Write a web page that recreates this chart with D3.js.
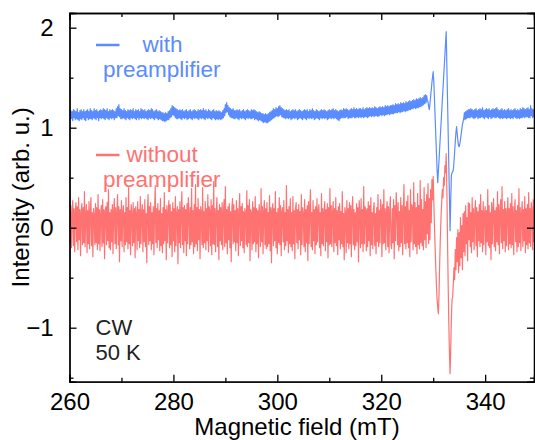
<!DOCTYPE html>
<html>
<head>
<meta charset="utf-8">
<script src="https://cdn.jsdelivr.net/npm/d3@7"></script>
<style>
  html, body { margin: 0; padding: 0; background: #fff; }
  #chart { width: 535px; height: 440px; }
  svg text { font-family: "Liberation Sans", Arial, sans-serif; }
</style>
</head>
<body>
<div id="chart"></div>
<script>
// sweep grid (mT): first point and spacing of the recorded field values
var fieldStart = 260;
var fieldStep = 0.125;

// intensity without preamplifier, one row per mT
var redIntensity = [
  0.32, -0.16, 0.22, -0.20, 0.14, 0.27, -0.18, 0.19,
  -0.24, 0.16, 0.25, -0.14, 0.21, -0.22, 0.30, -0.12,
  0.18, -0.28, 0.15, 0.24, -0.17, 0.20, -0.15, 0.36,
  -0.19, 0.14, 0.23, -0.25, 0.17, -0.16, 0.26, -0.21,
  0.16, 0.30, -0.18, 0.15, -0.29, 0.19, 0.13, -0.17,
  0.24, -0.15, 0.20, -0.22, 0.33, -0.16, 0.18, -0.23,
  0.14, 0.22, -0.19, 0.28, -0.15, 0.18, -0.31, 0.16,
  0.21, -0.17, 0.25, -0.13, 0.38, -0.20, 0.15, -0.22,
  0.18, -0.14, 0.23, -0.26, 0.16, 0.29, -0.16, 0.20,
  -0.21, 0.15, 0.33, -0.17, 0.21, -0.34, 0.18, -0.13,
  0.27, -0.19, 0.16, 0.22, -0.24, 0.15, -0.17, 0.30,
  -0.14, 0.20, -0.21, 0.40, -0.16, 0.17, -0.27, 0.23,
  0.13, -0.18, 0.25, -0.15, 0.19, -0.30, 0.21, 0.14,
  -0.22, 0.26, -0.13, 0.18, -0.20, 0.31, -0.16, 0.15,
  0.23, -0.24, 0.18, -0.14, 0.28, -0.19, 0.14, -0.35,
  0.17, 0.33, -0.17, 0.21, -0.13, 0.25, -0.22, 0.15,
  -0.16, 0.21, -0.27, 0.18, 0.42, -0.15, 0.19, -0.20,
  0.24, -0.12, 0.17, -0.23, 0.29, -0.18, 0.14, -0.25,
  0.20, -0.16, 0.35, -0.13, 0.18, -0.32, 0.22, -0.15,
  0.15, 0.27, -0.20, 0.23, -0.17, 0.16, -0.29, 0.25,
  -0.13, 0.19, -0.24, 0.31, -0.18, 0.14, 0.21, -0.36,
  0.18, -0.15, 0.26, -0.20, 0.16, 0.36, -0.17, 0.20,
  -0.25, 0.22, -0.13, 0.18, -0.28, 0.24, -0.16, 0.30,
  0.14, -0.21, 0.20, -0.17, 0.39, -0.14, 0.17, -0.26,
  0.23, -0.19, 0.43, -0.16, 0.20, -0.23, 0.29, -0.12,
  0.18, -0.31, 0.21, 0.15, -0.17, 0.40, -0.20, 0.16,
  -0.15, 0.26, -0.22, 0.19, -0.13, 0.33, -0.24, 0.21,
  0.16, -0.18, 0.28, -0.27, 0.22, -0.16, 0.46, -0.17,
  0.19, -0.24, 0.15, 0.30, -0.19, 0.17, -0.32, 0.23,
  -0.13, 0.20, -0.17, 0.25, -0.22, 0.15, 0.28, -0.19,
  0.41, -0.15, 0.18, -0.26, 0.21, -0.12, 0.24, -0.20,
  0.16, -0.34, 0.20, 0.29, -0.16, 0.23, -0.14, 0.17,
  -0.23, 0.27, -0.15, 0.19, -0.28, 0.15, 0.34, -0.18,
  0.21, -0.13, 0.24, -0.20, 0.16, -0.25, 0.19, 0.14,
  -0.17, 0.37, -0.19, 0.22, -0.15, 0.28, -0.33, 0.18,
  0.15, -0.22, 0.26, -0.16, 0.20, -0.14, 0.31, -0.24,
  0.19, -0.16, 0.17, -0.30, 0.23, 0.13, -0.19, 0.39,
  -0.14, 0.21, -0.26, 0.16, 0.27, -0.17, 0.19, -0.21,
  0.25, -0.19, 0.15, -0.16, 0.32, -0.23, 0.20, -0.35,
  0.17, 0.24, -0.18, 0.19, -0.13, 0.36, -0.20, 0.15,
  -0.26, 0.19, -0.15, 0.30, -0.17, 0.22, -0.28, 0.16,
  0.20, -0.14, 0.27, -0.22, 0.15, -0.18, 0.42, -0.13,
  0.18, -0.25, 0.21, -0.16, 0.29, -0.19, 0.15, -0.23,
  0.31, -0.16, 0.17, -0.31, 0.19, 0.25, -0.15, 0.18,
  -0.21, 0.23, -0.12, 0.16, -0.27, 0.33, -0.17, 0.20,
  0.14, -0.19, 0.28, -0.24, 0.18, -0.15, 0.22, -0.33,
  0.26, -0.16, 0.20, 0.38, -0.19, 0.15, -0.22, 0.27,
  -0.13, 0.18, -0.26, 0.21, -0.17, 0.29, -0.14, 0.17,
  0.23, -0.20, 0.15, -0.28, 0.34, -0.16, 0.19, -0.18,
  0.16, 0.26, -0.23, 0.18, -0.14, 0.24, -0.30, 0.20,
  -0.17, 0.39, -0.16, 0.22, -0.19, 0.15, 0.26, -0.24,
  0.19, -0.15, 0.30, -0.18, 0.17, -0.27, 0.21, -0.12,
  0.24, -0.21, 0.16, -0.16, 0.36, -0.19, 0.14, -0.32,
  0.20, 0.15, -0.25, 0.27, -0.15, 0.19, -0.21, 0.25,
  -0.16, 0.22, -0.29, 0.17, 0.31, -0.17, 0.18, -0.22,
  0.15, -0.18, 0.24, -0.14, 0.20, -0.34, 0.27, 0.16,
  -0.20, 0.29, -0.16, 0.18, -0.24, 0.41, -0.16, 0.21,
  0.17, -0.23, 0.19, -0.19, 0.26, -0.13, 0.22, -0.28,
  0.30, -0.17, 0.15, -0.21, 0.18, 0.25, -0.18, 0.14,
  -0.26, 0.20, -0.14, 0.33, -0.19, 0.17, -0.15, 0.28,
  0.18, -0.29, 0.23, -0.16, 0.38, -0.15, 0.19, -0.22,
  0.15, 0.26, -0.19, 0.21, -0.25, 0.16, 0.31, -0.17,
  -0.21, 0.19, -0.15, 0.28, -0.31, 0.22, -0.13, 0.35,
  0.20, -0.17, 0.25, -0.23, 0.16, -0.19, 0.30, -0.15,
  0.22, -0.27, 0.18, 0.43, -0.16, 0.21, -0.21, 0.26,
  -0.15, 0.32, -0.20, 0.17, -0.29, 0.38, -0.14, 0.23,
  0.19, -0.22, 0.45, -0.16, 0.25, -0.19, 0.20, -0.26,
  0.34, -0.17, 0.22, -0.21, 0.47, -0.15, 0.28, -0.18,
  // resonance 328 - 336.875
  0.18, -0.22, 0.40, -0.12, 0.26, -0.20, 0.33, -0.06,
  0.44, -0.16, 0.29, -0.12, 0.38, 0.05, 0.48, 0.28,
  0.51, 0.25, 0.00, -0.20, -0.40, -0.58, -0.72, -0.80,
  -0.86, -0.65, -0.35, -0.10, 0.10, 0.25, 0.38, 0.30,
  0.50, 0.42, 0.62, 0.55, 0.74, 0.40, -0.10, -0.55,
  -0.95, -1.25, -1.46, -1.20, -0.90, -0.72, -0.69, -0.55,
  -0.40, -0.52, -0.22, -0.42, -0.10, -0.34, -0.02, -0.45,
  -0.05, -0.38, 0.10, -0.30, 0.02, -0.42, 0.14, -0.24,
  0.16, -0.28, 0.22, -0.16, 0.10, -0.33, 0.25, -0.12,
  // 337 - 349.875
  0.24, -0.19, 0.15, -0.25, 0.30, -0.14, 0.19, -0.22,
  0.14, 0.27, -0.18, 0.20, -0.29, 0.16, -0.13, 0.23,
  -0.19, 0.33, -0.15, 0.17, -0.24, 0.26, -0.17, 0.15,
  0.21, -0.27, 0.17, -0.14, 0.38, -0.18, 0.22, -0.20,
  0.15, -0.32, 0.25, -0.16, 0.19, 0.29, -0.19, 0.17,
  -0.23, 0.20, -0.14, 0.36, -0.17, 0.23, -0.26, 0.16,
  0.28, -0.15, 0.41, -0.21, 0.18, -0.13, 0.26, -0.24,
  0.19, -0.18, 0.15, 0.30, -0.22, 0.19, -0.16, 0.24,
  -0.20, 0.34, -0.17, 0.21, -0.27, 0.15, 0.28, -0.14,
  0.17, -0.24, 0.22, -0.19, 0.39, -0.15, 0.20, -0.23,
  0.14, 0.26, -0.19, 0.18, -0.13, 0.31, -0.25, 0.19,
  -0.17, 0.23, -0.21, 0.35, -0.15, 0.19, -0.19, 0.25,
  0.16, -0.22, 0.28, -0.14, 0.20, -0.17, 0.24, -0.11
];

// intensity with preamplifier, one row per mT
var blueIntensity = [
  1.18, 1.08, 1.17, 1.09, 1.16, 1.07, 1.18, 1.10,
  1.17, 1.08, 1.16, 1.09, 1.19, 1.08, 1.15, 1.07,
  1.17, 1.09, 1.18, 1.08, 1.16, 1.10, 1.18, 1.08,
  1.16, 1.07, 1.17, 1.10, 1.18, 1.08, 1.16, 1.09,
  1.19, 1.09, 1.17, 1.08, 1.16, 1.10, 1.19, 1.09,
  1.17, 1.08, 1.18, 1.10, 1.16, 1.07, 1.17, 1.10,
  1.18, 1.09, 1.17, 1.10, 1.19, 1.09, 1.18, 1.08,
  1.17, 1.10, 1.19, 1.09, 1.16, 1.08, 1.18, 1.10,
  1.17, 1.09, 1.18, 1.10, 1.17, 1.08, 1.16, 1.10,
  1.19, 1.10, 1.21, 1.12, 1.23, 1.11, 1.19, 1.09,
  1.18, 1.09, 1.17, 1.10, 1.19, 1.09, 1.17, 1.08,
  1.16, 1.10, 1.18, 1.09, 1.17, 1.08, 1.18, 1.10,
  1.17, 1.09, 1.19, 1.10, 1.16, 1.09, 1.18, 1.08,
  1.17, 1.10, 1.18, 1.08, 1.16, 1.10, 1.19, 1.09,
  1.18, 1.10, 1.17, 1.09, 1.18, 1.10, 1.16, 1.09,
  1.17, 1.08, 1.18, 1.10, 1.17, 1.09, 1.19, 1.10,
  1.18, 1.09, 1.16, 1.08, 1.17, 1.10, 1.18, 1.09,
  1.16, 1.08, 1.17, 1.09, 1.16, 1.08, 1.15, 1.07,
  1.15, 1.07, 1.14, 1.06, 1.15, 1.07, 1.14, 1.08,
  1.16, 1.08, 1.17, 1.10, 1.19, 1.11, 1.22, 1.13,
  1.21, 1.12, 1.20, 1.10, 1.19, 1.09, 1.18, 1.09,
  1.17, 1.10, 1.18, 1.09, 1.17, 1.08, 1.18, 1.10,
  1.16, 1.09, 1.17, 1.10, 1.18, 1.08, 1.16, 1.09,
  1.17, 1.10, 1.18, 1.09, 1.16, 1.08, 1.17, 1.10,
  1.18, 1.09, 1.17, 1.10, 1.16, 1.09, 1.18, 1.08,
  1.17, 1.10, 1.18, 1.09, 1.17, 1.10, 1.19, 1.09,
  1.17, 1.08, 1.18, 1.10, 1.16, 1.09, 1.18, 1.10,
  1.17, 1.09, 1.16, 1.08, 1.17, 1.10, 1.18, 1.09,
  1.16, 1.08, 1.17, 1.09, 1.16, 1.08, 1.17, 1.09,
  1.16, 1.08, 1.15, 1.09, 1.17, 1.10, 1.19, 1.12,
  1.23, 1.15, 1.25, 1.16, 1.22, 1.13, 1.20, 1.11,
  1.19, 1.10, 1.18, 1.10, 1.19, 1.09, 1.17, 1.09,
  1.17, 1.10, 1.18, 1.09, 1.17, 1.08, 1.18, 1.10,
  1.16, 1.09, 1.17, 1.10, 1.18, 1.09, 1.16, 1.08,
  1.17, 1.10, 1.18, 1.09, 1.17, 1.10, 1.16, 1.09,
  1.18, 1.09, 1.17, 1.10, 1.18, 1.08, 1.17, 1.09,
  1.16, 1.08, 1.15, 1.07, 1.16, 1.08, 1.15, 1.07,
  1.14, 1.06, 1.14, 1.05, 1.13, 1.06, 1.14, 1.05,
  1.13, 1.05, 1.14, 1.06, 1.15, 1.07, 1.16, 1.08,
  1.17, 1.09, 1.19, 1.10, 1.18, 1.11, 1.20, 1.12,
  1.19, 1.11, 1.21, 1.12, 1.22, 1.13, 1.20, 1.11,
  1.19, 1.10, 1.18, 1.10, 1.17, 1.09, 1.18, 1.10,
  1.17, 1.09, 1.18, 1.10, 1.16, 1.08, 1.17, 1.09,
  1.18, 1.10, 1.17, 1.09, 1.18, 1.10, 1.16, 1.08,
  1.17, 1.09, 1.18, 1.10, 1.17, 1.09, 1.16, 1.08,
  1.17, 1.10, 1.18, 1.09, 1.17, 1.08, 1.18, 1.10,
  1.16, 1.09, 1.18, 1.10, 1.17, 1.09, 1.19, 1.10,
  1.17, 1.08, 1.16, 1.09, 1.18, 1.10, 1.17, 1.09,
  1.16, 1.08, 1.17, 1.10, 1.18, 1.09, 1.17, 1.10,
  1.18, 1.09, 1.17, 1.10, 1.16, 1.08, 1.17, 1.09,
  1.18, 1.10, 1.17, 1.09, 1.18, 1.10, 1.19, 1.09,
  1.17, 1.10, 1.18, 1.09, 1.17, 1.08, 1.16, 1.07,
  1.17, 1.09, 1.18, 1.10, 1.17, 1.10, 1.19, 1.10,
  1.18, 1.10, 1.19, 1.11, 1.18, 1.09, 1.17, 1.10,
  1.18, 1.10, 1.19, 1.10, 1.18, 1.11, 1.20, 1.10,
  1.18, 1.10, 1.19, 1.11, 1.18, 1.10, 1.19, 1.11,
  1.19, 1.10, 1.18, 1.11, 1.20, 1.10, 1.18, 1.11,
  1.19, 1.11, 1.20, 1.10, 1.19, 1.11, 1.20, 1.12,
  1.19, 1.11, 1.20, 1.12, 1.19, 1.11, 1.21, 1.12,
  1.20, 1.12, 1.19, 1.11, 1.20, 1.12, 1.21, 1.13,
  1.20, 1.12, 1.21, 1.13, 1.20, 1.12, 1.22, 1.13,
  1.21, 1.13, 1.22, 1.14, 1.21, 1.13, 1.22, 1.14,
  1.22, 1.14, 1.23, 1.14, 1.22, 1.15, 1.24, 1.15,
  1.23, 1.15, 1.24, 1.16, 1.23, 1.15, 1.25, 1.16,
  1.24, 1.16, 1.25, 1.17, 1.24, 1.16, 1.26, 1.17,
  1.25, 1.17, 1.26, 1.18, 1.27, 1.18, 1.26, 1.19,
  1.27, 1.19, 1.28, 1.20, 1.27, 1.19, 1.29, 1.20,
  1.28, 1.20, 1.29, 1.21, 1.30, 1.21, 1.29, 1.22,
  // resonance 328 - 336.875
  1.30, 1.23, 1.32, 1.24, 1.33, 1.25, 1.32, 1.27,
  1.26, 1.21, 1.18, 1.24, 1.31, 1.38, 1.45, 1.51,
  1.56, 1.45, 1.28, 1.10, 0.92, 0.75, 0.58, 0.45,
  0.57, 0.68, 0.80, 0.92, 1.03, 1.15, 1.27, 1.38,
  1.50, 1.61, 1.73, 1.85, 1.96, 1.63, 1.30, 0.97,
  0.63, 0.30, -0.03, 0.28, 0.52, 0.55, 0.56, 0.58,
  0.66, 0.76, 0.86, 0.95, 1.01, 0.94, 0.87, 0.82,
  0.81, 0.84, 0.88, 0.93, 0.98, 1.03, 1.06, 1.09,
  1.15, 1.08, 1.16, 1.09, 1.17, 1.10, 1.18, 1.10,
  // 337 - 349.875
  1.18, 1.10, 1.19, 1.11, 1.18, 1.10, 1.17, 1.09,
  1.18, 1.10, 1.19, 1.11, 1.17, 1.09, 1.18, 1.10,
  1.19, 1.10, 1.18, 1.11, 1.20, 1.10, 1.17, 1.09,
  1.18, 1.11, 1.19, 1.10, 1.18, 1.09, 1.19, 1.11,
  1.17, 1.09, 1.18, 1.10, 1.19, 1.11, 1.18, 1.10,
  1.19, 1.10, 1.20, 1.11, 1.18, 1.10, 1.17, 1.09,
  1.18, 1.10, 1.19, 1.09, 1.17, 1.10, 1.18, 1.10,
  1.17, 1.09, 1.18, 1.10, 1.19, 1.10, 1.17, 1.09,
  1.18, 1.10, 1.17, 1.09, 1.18, 1.11, 1.19, 1.10,
  1.17, 1.09, 1.18, 1.10, 1.17, 1.09, 1.19, 1.10,
  1.18, 1.10, 1.20, 1.11, 1.19, 1.10, 1.18, 1.11,
  1.19, 1.11, 1.20, 1.10, 1.18, 1.10, 1.22, 1.12,
  1.19, 1.10, 1.18, 1.11, 1.19, 1.10, 1.17, 1.10
];

// axis ticks
var xTicks = [260, 280, 300, 320, 340];
var xMinorTicks = [270, 290, 310, 330];
var yTicks = [-1, 0, 1, 2];
var yMinorTicks = [-1.5, -0.5, 0.5, 1.5];

var config = {
  "width": 535,
  "height": 440,
  "left": 69.5,
  "right": 534,
  "top": 13,
  "bottom": 381.7,
  "blue": "#5b8cff",
  "red": "#ff7272"
};

window.addEventListener("DOMContentLoaded", main);

function main() {
  const x = d3.scaleLinear()
    .domain([260, 349.4])
    .range([config.left, config.right]);

  const y = d3.scaleLinear()
    .domain([-1.54, 2.147])
    .range([config.bottom, config.top]);

  const svg = d3.select("#chart")
    .append("svg")
    .attr("width", config.width)
    .attr("height", config.height);

  svg.append("clipPath")
    .attr("id", "plotClip")
    .append("rect")
    .attr("x", config.left)
    .attr("y", config.top)
    .attr("width", config.right - config.left)
    .attr("height", config.bottom - config.top);

  // spectra, red first so the blue trace sits on top
  const line = d3.line()
    .x(function(d) { return x(d[0]); })
    .y(function(d) { return y(d[1]); });

  function toPoints(values) {
    return values.map(function(v, i) { return [fieldStart + i * fieldStep, v]; });
  }

  const traces = svg.append("g").attr("clip-path", "url(#plotClip)");

  traces.append("path")
    .datum(toPoints(redIntensity))
    .attr("d", line)
    .style("fill", "none")
    .style("stroke", config.red)
    .style("stroke-width", "1.2px")
    .style("stroke-linejoin", "round");

  traces.append("path")
    .datum(toPoints(blueIntensity))
    .attr("d", line)
    .style("fill", "none")
    .style("stroke", config.blue)
    .style("stroke-width", "1.2px")
    .style("stroke-linejoin", "round");

  // axes: inward ticks on all four sides
  const major = 7, minor = 4;
  const bottomAxis = d3.axisBottom(x).tickValues(xTicks).tickSize(-major).tickPadding(11).tickFormat(d3.format("d"));
  const bottomMinor = d3.axisBottom(x).tickValues(xMinorTicks).tickSize(-minor).tickFormat("");
  const topAxis = d3.axisTop(x).tickValues(xTicks).tickSize(-major).tickFormat("");
  const topMinor = d3.axisTop(x).tickValues(xMinorTicks).tickSize(-minor).tickFormat("");
  const leftAxis = d3.axisLeft(y).tickValues(yTicks).tickSize(-major).tickPadding(16)
    .tickFormat(function(d) { return d < 0 ? "\u2212" + Math.abs(d) : d; });
  const leftMinor = d3.axisLeft(y).tickValues(yMinorTicks).tickSize(-minor).tickFormat("");
  const rightAxis = d3.axisRight(y).tickValues(yTicks).tickSize(-major).tickFormat("");
  const rightMinor = d3.axisRight(y).tickValues(yMinorTicks).tickSize(-minor).tickFormat("");

  function addAxis(axis, tx, ty) {
    const g = svg.append("g")
      .attr("transform", "translate(" + tx + "," + ty + ")")
      .call(axis);
    g.selectAll("path").style("stroke", "#000").style("stroke-width", "1.3px");
    g.selectAll("line").style("stroke", "#000").style("stroke-width", "1.3px");
    g.selectAll("text").style("font-size", "24px").style("fill", "#000");
    return g;
  }

  addAxis(bottomAxis, 0, config.bottom);
  addAxis(bottomMinor, 0, config.bottom);
  addAxis(topAxis, 0, config.top);
  addAxis(topMinor, 0, config.top);
  addAxis(leftAxis, config.left, 0);
  addAxis(leftMinor, config.left, 0);
  addAxis(rightAxis, config.right, 0);
  addAxis(rightMinor, config.right, 0);

  // axis titles
  svg.append("text")
    .attr("x", 297)
    .attr("y", 435)
    .attr("text-anchor", "middle")
    .style("font-size", "24px")
    .style("fill", "#000")
    .text("Magnetic field (mT)");

  svg.append("text")
    .attr("transform", "translate(29," + ((config.top + config.bottom) / 2) + ") rotate(-90)")
    .attr("text-anchor", "middle")
    .style("font-size", "24px")
    .style("fill", "#000")
    .text("Intensity (arb. u.)");

  // legend
  const legend = [
    { "label": "with", "color": config.blue, "y": 45, "dx": 142.5 },
    { "label": "without", "color": config.red, "y": 155, "dx": 126.5 }
  ];
  legend.forEach(function(item) {
    svg.append("line")
      .attr("x1", 96).attr("x2", 119.5)
      .attr("y1", item.y).attr("y2", item.y)
      .style("stroke", item.color)
      .style("stroke-width", "2.5px");
    svg.append("text")
      .attr("x", item.dx)
      .attr("y", item.y + 6.5)
      .style("font-size", "22.5px")
      .style("fill", item.color)
      .text(item.label);
    svg.append("text")
      .attr("x", 103)
      .attr("y", item.y + 32)
      .style("font-size", "22.5px")
      .style("fill", item.color)
      .text("preamplifier");
  });

  // measurement note
  svg.append("text")
    .attr("x", 95.5)
    .attr("y", 335)
    .style("font-size", "22px")
    .style("fill", "#222")
    .text("CW");
  svg.append("text")
    .attr("x", 95.5)
    .attr("y", 360)
    .style("font-size", "22px")
    .style("fill", "#222")
    .text("50 K");
}
</script>
</body>
</html>
